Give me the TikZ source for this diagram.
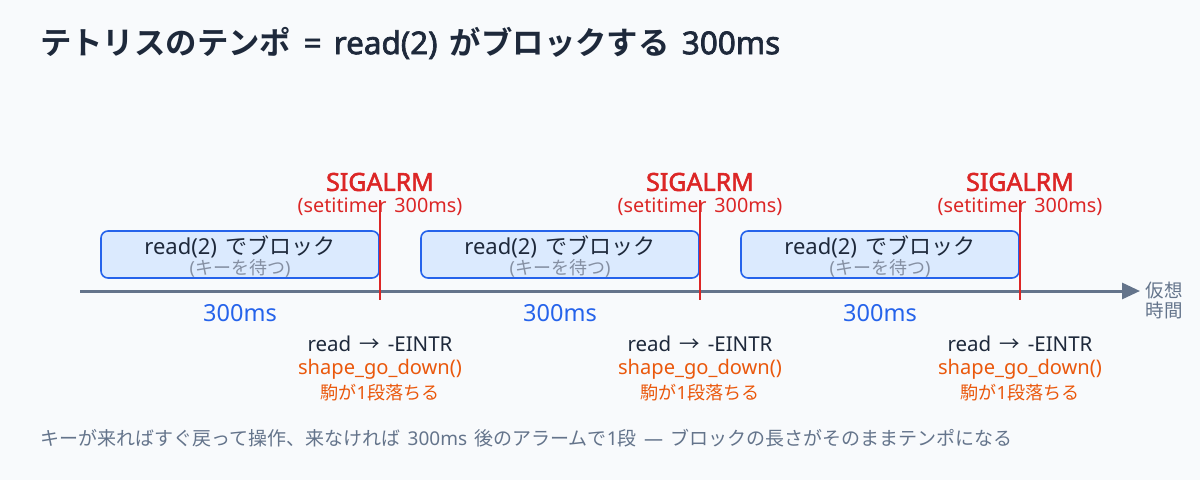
\documentclass[tikz,border=0pt]{standalone}
\usepackage{fontspec}
\setmainfont{Noto Sans}[AutoFakeBold=2.2, WordSpace=1.5]
\newfontfamily\jpf{Noto Sans CJK JP}[BoldFont={Noto Sans CJK JP Bold}]
\newcommand\jp[1]{{\jpf #1}}
\usetikzlibrary{arrows.meta}
\definecolor{bg}{HTML}{F8FAFC}
\definecolor{ink}{HTML}{1E293B}
\definecolor{axis}{HTML}{64748B}
\definecolor{boxfill}{HTML}{DBEAFE}
\definecolor{boxline}{HTML}{2563EB}
\definecolor{alarm}{HTML}{DC2626}
\definecolor{orangec}{HTML}{EA580C}
\definecolor{mutedc}{HTML}{8590A3}
\tikzset{
  blockbox/.style={draw=boxline, fill=boxfill, line width=1.6pt, rounded corners=7pt, minimum width=278pt, minimum height=47pt, inner sep=0pt},
  alarmline/.style={draw=alarm, line width=2.6pt},
  sigtext/.style={text=alarm, font=\fontsize{25}{27}\selectfont\bfseries, inner sep=0pt},
  settext/.style={text=alarm, font=\fontsize{19.8}{21}\selectfont, inner sep=0pt},
  mainlbl/.style={text=ink, font=\fontsize{22}{24}\selectfont, inner sep=0pt},
  sublbl/.style={text=mutedc, font=\fontsize{18}{19}\selectfont, inner sep=0pt},
  durlbl/.style={text=boxline, font=\fontsize{23.5}{25}\selectfont, inner sep=0pt},
  eintr/.style={text=ink, font=\fontsize{20.5}{22}\selectfont, inner sep=0pt},
  orangelbl/.style={text=orangec, font=\fontsize{20.1}{21}\selectfont, inner sep=0pt},
  jplbl/.style={text=orangec, font=\fontsize{18.1}{20}\selectfont, inner sep=0pt},
}
\begin{document}
\begin{tikzpicture}[x=1pt,y=-1pt]
\fill[bg] (0,0) rectangle (1200,480);
\useasboundingbox (0,0) rectangle (1200,480);
\node[anchor=west, text=ink, font=\fontsize{31.4}{33}\selectfont\bfseries, inner sep=0pt] (title) at (40,43) {\jp{テトリスのテンポ} = read(2) \jp{がブロックする} 300ms};
% axis
\coordinate (axstart) at (80,291);
\coordinate (axend) at (1140,291);
\draw[draw=axis, line width=3pt, -{Triangle[length=18pt,width=16pt]}] (axstart) -- (axend);
\node[text=axis, font=\fontsize{18.5}{20}\selectfont\jpf, align=center, inner sep=0pt] (vt) at (1164,300) {仮想\\時間};
\foreach \i/\bx/\ax in {1/240/380, 2/560/700, 3/880/1020} {
  \node[blockbox] (b\i) at (\bx,254.5) {};
  \node[mainlbl] (m\i) at (\bx,246.5) {read(2) \jp{でブロック}};
  \node[sublbl] (s\i) at (\bx,268.5) {(\jp{キーを待つ})};
  \coordinate (at\i) at (\ax,200);
  \coordinate (ab\i) at (\ax,300);
  \draw[alarmline] (at\i) -- (ab\i);
  \node[sigtext] (sig\i) at (\ax,182) {SIGALRM};
  \node[settext] (set\i) at (\ax,206.5) {(setitimer 300ms)};
  \node[durlbl] (d\i) at (\bx,313) {300ms};
  \node[eintr] (e\i) at (\ax,344) {read \jp{→} -EINTR};
  \node[orangelbl] (g\i) at (\ax,369.5) {shape\_go\_down()};
  \node[jplbl] (k\i) at (\ax,393) {\jp{駒が}1\jp{段落ちる}};
}
\node[anchor=west, text=axis, font=\fontsize{19}{20}\selectfont, inner sep=0pt] (foot) at (40,438) {\jp{キーが来ればすぐ戻って操作、来なければ} 300ms \jp{後のアラームで}1\jp{段} — \jp{ブロックの長さがそのままテンポになる}};
\end{tikzpicture}
\end{document}
